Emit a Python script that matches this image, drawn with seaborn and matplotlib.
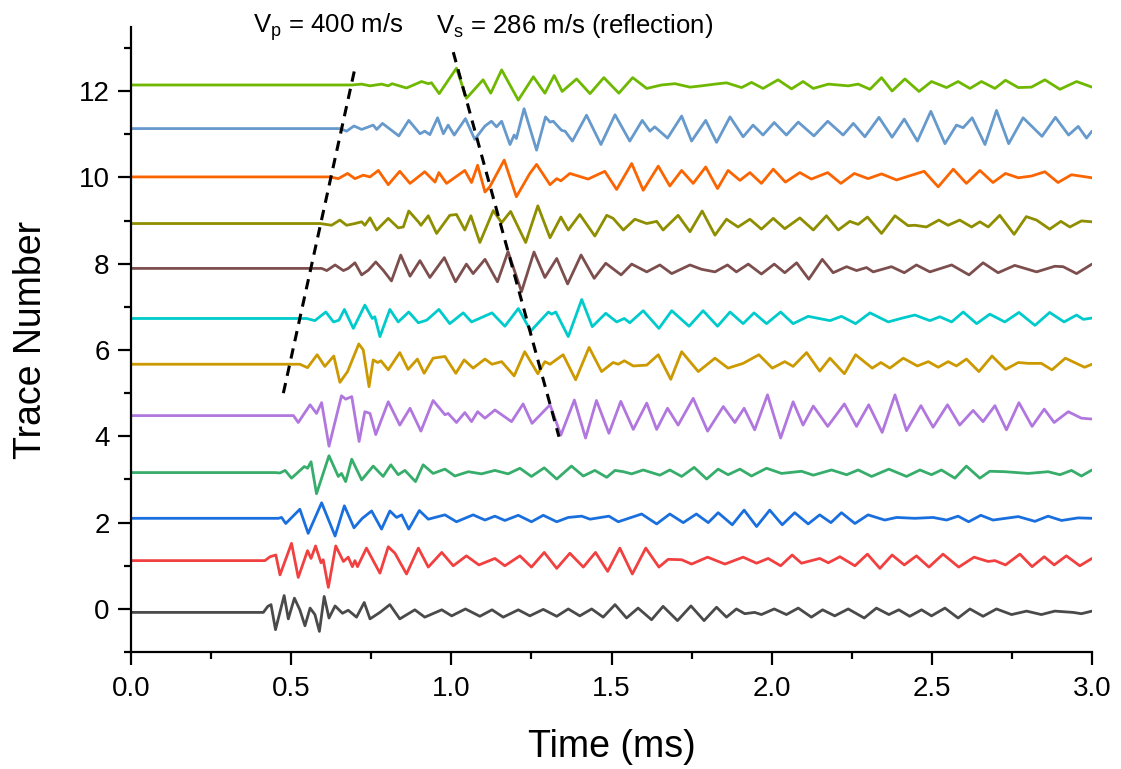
import matplotlib
matplotlib.use("Agg")
import matplotlib.pyplot as plt
import seaborn as sns
import pandas as pd
from matplotlib.ticker import MultipleLocator, FormatStrFormatter

# ---------------- data (time in ms, amplitude in trace units) ----------------
offsets = [-0.08, 1.12, 2.10, 3.16, 4.48, 5.67, 6.73, 7.89, 8.93, 10.01, 11.13, 12.14]
colors = ["#4A4A4A", "#F14040", "#1A6FDF", "#37AD6B", "#B177DE", "#CC9900",
          "#00CBCC", "#7D4E4E", "#8E8E00", "#FB6501", "#6699CC", "#6FB802"]

trace_0 = [(0, 0), (0.413, 0), (0.427, 0.14), (0.437, 0.18), (0.451, -0.40), (0.478, 0.39), (0.491, -0.15),
           (0.510, 0.33), (0.527, 0.06), (0.543, -0.31), (0.559, 0.10), (0.574, -0.05), (0.588, -0.44),
           (0.603, 0.37), (0.618, -0.13), (0.637, 0.15), (0.660, -0.02), (0.678, 0.05), (0.704, -0.11),
           (0.728, 0.23), (0.746, -0.15), (0.777, 0), (0.808, 0.18), (0.839, -0.15), (0.886, 0.06),
           (0.917, -0.11), (0.970, 0.06), (1.001, -0.08), (1.044, 0.08), (1.089, -0.09), (1.127, 0.06),
           (1.162, -0.11), (1.209, 0.06), (1.245, -0.08), (1.287, 0.07), (1.329, -0.09), (1.365, 0.08),
           (1.401, -0.08), (1.438, 0.08), (1.474, -0.11), (1.511, 0.18), (1.547, -0.13), (1.583, 0.10),
           (1.625, -0.17), (1.661, 0.14), (1.706, -0.19), (1.748, 0.15), (1.789, -0.19), (1.828, 0.12),
           (1.859, -0.11), (1.890, 0.08), (1.916, -0.03), (1.947, 0), (1.968, -0.05), (2.008, 0.08),
           (2.046, -0.05), (2.083, 0.10), (2.124, -0.11), (2.159, 0.06), (2.197, -0.08), (2.239, 0.08),
           (2.289, -0.13), (2.327, 0.10), (2.366, -0.05), (2.397, 0.06), (2.431, -0.09), (2.468, 0.06),
           (2.499, -0.08), (2.541, 0.10), (2.582, -0.13), (2.619, 0.08), (2.660, -0.09), (2.702, 0.08),
           (2.749, -0.05), (2.796, 0.03), (2.842, -0.05), (2.884, 0.03), (2.941, 0), (2.967, -0.03), (3.0, 0.03)]

trace_1 = [(0, 0), (0.418, 0), (0.434, 0.09), (0.452, 0.13), (0.465, -0.33), (0.501, 0.40), (0.522, -0.39),
           (0.551, 0.23), (0.562, 0.05), (0.576, 0.34), (0.593, -0.05), (0.600, 0.02), (0.616, -0.62),
           (0.639, 0.34), (0.663, -0.02), (0.678, 0.08), (0.691, -0.14), (0.699, 0), (0.707, -0.14),
           (0.735, 0.29), (0.777, -0.29), (0.803, 0.32), (0.824, 0.17), (0.860, -0.31), (0.897, 0.29),
           (0.928, -0.15), (0.970, 0.19), (1.006, -0.12), (1.047, 0.11), (1.086, -0.10), (1.136, 0.05),
           (1.167, -0.12), (1.214, 0.11), (1.250, -0.15), (1.290, 0.19), (1.329, -0.18), (1.370, 0.17),
           (1.412, -0.15), (1.450, 0.19), (1.488, -0.25), (1.526, 0.29), (1.565, -0.31), (1.607, 0.29),
           (1.648, -0.15), (1.677, 0.03), (1.719, 0.02), (1.750, -0.08), (1.800, 0.08), (1.854, -0.08),
           (1.911, 0.08), (1.953, -0.06), (1.989, 0.05), (2.028, -0.12), (2.064, 0.13), (2.093, -0.06),
           (2.150, 0.05), (2.177, -0.05), (2.213, 0.09), (2.260, -0.12), (2.299, 0.15), (2.338, -0.18),
           (2.376, 0.13), (2.414, -0.10), (2.452, 0.11), (2.491, -0.15), (2.535, 0.15), (2.584, -0.15),
           (2.632, 0.08), (2.676, -0.02), (2.697, 0), (2.730, -0.10), (2.775, 0.15), (2.813, -0.14),
           (2.851, 0.09), (2.882, -0.10), (2.920, 0.11), (2.962, -0.12), (3.0, 0.05)]

trace_2 = [(0, 0), (0.460, 0), (0.470, 0.02), (0.483, -0.12), (0.527, 0.21), (0.553, -0.35), (0.595, 0.36),
           (0.637, -0.41), (0.666, 0.29), (0.696, -0.22), (0.722, 0), (0.751, 0.17), (0.782, -0.25),
           (0.808, 0.17), (0.829, 0.02), (0.845, 0.08), (0.867, -0.25), (0.900, 0.18), (0.928, -0.02),
           (0.980, 0.08), (1.016, -0.08), (1.068, 0.08), (1.105, -0.04), (1.136, 0.05), (1.167, -0.05),
           (1.209, 0.07), (1.250, -0.08), (1.287, 0.07), (1.329, -0.08), (1.365, 0.02), (1.407, 0.05),
           (1.433, -0.02), (1.492, 0.05), (1.521, -0.08), (1.594, 0.10), (1.641, -0.13), (1.682, 0.10),
           (1.724, -0.10), (1.765, 0.10), (1.802, -0.10), (1.833, 0.13), (1.877, -0.15), (1.914, 0.19),
           (1.953, -0.19), (1.994, 0.19), (2.033, -0.15), (2.072, 0.13), (2.114, -0.13), (2.150, 0.08),
           (2.185, -0.10), (2.218, 0.13), (2.260, -0.12), (2.301, 0.08), (2.353, -0.04), (2.390, 0.02),
           (2.447, 0), (2.504, 0.02), (2.546, -0.04), (2.582, 0.05), (2.615, -0.08), (2.653, 0.07),
           (2.691, -0.04), (2.770, 0.04), (2.822, -0.07), (2.863, 0.05), (2.905, -0.05), (2.957, 0.01), (3.0, 0)]

trace_3 = [(0, 0), (0.449, 0), (0.465, -0.01), (0.481, 0.05), (0.501, -0.13), (0.541, 0.14), (0.551, 0.10),
           (0.562, 0.25), (0.579, -0.49), (0.618, 0.39), (0.647, -0.09), (0.657, -0.02), (0.670, -0.21),
           (0.689, 0.31), (0.720, -0.17), (0.756, 0.15), (0.787, -0.09), (0.811, 0.18), (0.834, -0.05),
           (0.855, 0.05), (0.888, -0.21), (0.912, 0.18), (0.943, -0.02), (0.980, 0.08), (1.011, -0.08),
           (1.053, 0.02), (1.094, -0.03), (1.136, 0.05), (1.177, -0.03), (1.214, 0.10), (1.250, -0.09),
           (1.290, 0.11), (1.329, -0.15), (1.375, 0.15), (1.412, -0.08), (1.448, 0.05), (1.485, -0.11),
           (1.511, 0.05), (1.537, 0.02), (1.563, -0.03), (1.599, 0.06), (1.651, -0.06), (1.682, 0.06),
           (1.719, -0.09), (1.758, 0.12), (1.797, -0.15), (1.833, 0.08), (1.864, -0.05), (1.901, 0.08),
           (1.937, -0.08), (1.984, 0.10), (2.031, -0.02), (2.093, 0.03), (2.130, -0.06), (2.187, 0.06),
           (2.234, -0.05), (2.270, 0.06), (2.312, -0.09), (2.366, 0.08), (2.421, -0.09), (2.463, 0.06),
           (2.499, -0.05), (2.530, 0.06), (2.572, -0.13), (2.608, 0.15), (2.650, -0.13), (2.681, 0.03),
           (2.728, 0.02), (2.801, -0.02), (2.863, 0.02), (2.900, -0.05), (2.936, 0.05), (2.967, -0.08), (3.0, 0.06)]

trace_4 = [(0, 0), (0.507, 0), (0.522, -0.16), (0.559, 0.25), (0.579, 0.05), (0.595, 0.30), (0.618, -0.71),
           (0.657, 0.46), (0.670, 0.38), (0.689, 0.44), (0.712, -0.60), (0.730, 0.09), (0.746, 0.05),
           (0.764, -0.44), (0.803, 0.32), (0.839, -0.22), (0.871, 0.17), (0.905, -0.36), (0.943, 0.35),
           (0.980, 0.02), (0.990, 0.05), (1.016, -0.16), (1.042, 0.07), (1.063, -0.14), (1.082, 0.09),
           (1.105, -0.06), (1.136, 0.13), (1.188, -0.14), (1.224, 0.27), (1.252, -0.18), (1.308, 0.25),
           (1.342, -0.45), (1.384, 0.36), (1.419, -0.52), (1.453, 0.35), (1.492, -0.41), (1.529, 0.33),
           (1.568, -0.32), (1.610, 0.29), (1.641, -0.32), (1.675, 0.17), (1.708, -0.22), (1.755, 0.40),
           (1.800, -0.36), (1.849, 0.21), (1.885, -0.16), (1.914, 0.17), (1.947, -0.33), (1.987, 0.48),
           (2.028, -0.52), (2.067, 0.32), (2.098, -0.22), (2.130, 0.22), (2.175, -0.25), (2.227, 0.27),
           (2.265, -0.25), (2.303, 0.25), (2.345, -0.39), (2.385, 0.48), (2.421, -0.35), (2.466, 0.23),
           (2.504, -0.27), (2.549, 0.25), (2.587, -0.22), (2.629, 0.12), (2.660, -0.14), (2.697, 0.23),
           (2.733, -0.33), (2.772, 0.30), (2.813, -0.25), (2.851, 0.15), (2.882, -0.16), (2.926, 0.09),
           (2.967, -0.06), (3.0, -0.08)]

trace_5 = [(0, 0), (0.501, 0), (0.527, 0), (0.551, -0.08), (0.581, 0.22), (0.605, -0.05), (0.633, 0.19),
           (0.652, -0.42), (0.676, -0.17), (0.711, 0.47), (0.725, 0.33), (0.743, -0.52), (0.756, 0.10),
           (0.770, 0.04), (0.780, 0.08), (0.803, -0.13), (0.839, 0.27), (0.865, -0.12), (0.894, 0.12),
           (0.915, -0.21), (0.943, 0.14), (0.980, 0.18), (1.014, -0.21), (1.040, 0.10), (1.068, -0.09),
           (1.105, 0.12), (1.127, 0), (1.157, 0.06), (1.196, -0.27), (1.229, 0.29), (1.270, -0.22),
           (1.292, 0.06), (1.308, 0), (1.349, 0.22), (1.388, -0.36), (1.430, 0.39), (1.469, -0.17),
           (1.505, 0.04), (1.521, 0), (1.540, 0.08), (1.568, -0.04), (1.610, -0.02), (1.646, 0.22),
           (1.685, -0.35), (1.719, 0.29), (1.771, -0.17), (1.823, 0.14), (1.864, -0.09), (1.911, 0.02),
           (1.960, 0.22), (2.002, -0.09), (2.041, 0.06), (2.067, -0.05), (2.109, 0.27), (2.150, -0.16),
           (2.182, 0.14), (2.227, -0.22), (2.262, 0.22), (2.314, -0.09), (2.341, 0.04), (2.369, -0.09),
           (2.411, 0.14), (2.455, -0.04), (2.489, 0.06), (2.520, -0.07), (2.551, 0.06), (2.577, -0.04),
           (2.608, 0.12), (2.647, -0.17), (2.688, 0.19), (2.730, -0.12), (2.770, 0.04), (2.801, 0.02),
           (2.842, 0.02), (2.875, -0.13), (2.917, 0.14), (2.977, -0.07), (3.0, 0)]

trace_6 = [(0, 0), (0.548, 0), (0.574, -0.05), (0.608, 0.15), (0.632, -0.08), (0.649, -0.04), (0.666, 0.21),
           (0.694, -0.23), (0.730, 0.31), (0.753, 0), (0.761, 0.04), (0.777, -0.42), (0.808, 0.21),
           (0.834, -0.08), (0.867, 0.15), (0.897, -0.10), (0.923, -0.04), (0.961, 0.21), (0.995, -0.12),
           (1.037, 0.13), (1.063, -0.08), (1.127, 0.13), (1.167, -0.18), (1.209, 0.23), (1.248, -0.29),
           (1.303, 0.15), (1.313, 0.10), (1.326, 0.15), (1.365, -0.42), (1.407, 0.44), (1.440, -0.19),
           (1.482, 0.12), (1.516, -0.08), (1.540, 0), (1.557, -0.10), (1.599, 0.18), (1.648, -0.23),
           (1.688, 0.18), (1.742, -0.18), (1.786, 0.18), (1.831, -0.18), (1.870, 0.15), (1.911, -0.12),
           (1.945, 0.13), (1.984, -0.12), (2.028, 0.15), (2.067, -0.12), (2.114, 0.05), (2.182, -0.05),
           (2.218, 0.05), (2.262, -0.12), (2.307, 0.13), (2.364, -0.08), (2.403, 0), (2.447, 0.08),
           (2.494, -0.05), (2.525, 0.04), (2.562, -0.08), (2.598, 0.15), (2.640, -0.12), (2.681, 0.10),
           (2.728, -0.08), (2.772, 0.14), (2.822, -0.16), (2.868, 0.14), (2.913, -0.08), (2.952, 0.08),
           (2.973, -0.02), (3.0, 0.01)]

trace_7 = [(0, 0), (0.595, 0), (0.611, -0.05), (0.637, 0.08), (0.663, -0.05), (0.678, 0), (0.699, 0.13),
           (0.720, -0.15), (0.741, -0.04), (0.764, 0.15), (0.787, -0.04), (0.813, -0.29), (0.842, 0.31),
           (0.871, -0.18), (0.902, 0.18), (0.933, -0.21), (0.978, 0.25), (1.013, -0.31), (1.047, 0.10),
           (1.068, -0.12), (1.105, 0.21), (1.144, -0.31), (1.177, 0.39), (1.219, -0.54), (1.258, 0.38),
           (1.292, -0.21), (1.329, 0.23), (1.363, -0.36), (1.405, 0.31), (1.446, -0.23), (1.482, 0.12),
           (1.530, -0.15), (1.563, 0.10), (1.610, -0.08), (1.651, 0.08), (1.688, -0.12), (1.745, 0.08),
           (1.781, -0.02), (1.823, -0.08), (1.862, 0.08), (1.890, -0.08), (1.927, 0.10), (1.968, -0.13),
           (2.008, 0.10), (2.041, -0.10), (2.078, 0.13), (2.116, -0.25), (2.158, 0.21), (2.192, -0.10),
           (2.234, 0.04), (2.265, -0.05), (2.296, 0.02), (2.317, -0.08), (2.374, 0.04), (2.414, -0.10),
           (2.452, 0.08), (2.494, -0.08), (2.562, 0.08), (2.616, -0.15), (2.660, 0.13), (2.707, -0.10),
           (2.759, 0.07), (2.827, -0.08), (2.884, 0.05), (2.910, 0.04), (2.952, -0.12), (3.0, 0.10)]

trace_8 = [(0, 0), (0.590, 0), (0.626, -0.04), (0.652, 0.08), (0.673, -0.04), (0.699, 0), (0.720, 0.04),
           (0.730, -0.04), (0.746, 0.13), (0.767, -0.15), (0.803, 0.12), (0.834, -0.10), (0.850, -0.08),
           (0.867, 0.29), (0.897, 0.04), (0.905, -0.04), (0.928, 0.18), (0.954, -0.23), (0.995, 0.19),
           (1.016, 0.21), (1.042, -0.15), (1.061, 0.18), (1.089, -0.44), (1.131, 0.30), (1.157, 0.02),
           (1.185, 0.28), (1.232, -0.44), (1.270, 0.41), (1.308, -0.33), (1.342, 0.15), (1.365, -0.15),
           (1.401, 0.21), (1.448, -0.29), (1.485, 0.19), (1.505, 0.12), (1.537, -0.15), (1.573, 0.10),
           (1.610, 0), (1.641, 0.05), (1.661, -0.15), (1.708, 0.19), (1.745, -0.19), (1.783, 0.29),
           (1.823, -0.27), (1.859, 0.10), (1.895, -0.08), (1.932, 0.10), (1.968, -0.13), (2.005, 0.12),
           (2.041, -0.12), (2.088, 0.13), (2.130, -0.15), (2.171, 0.18), (2.208, -0.15), (2.244, 0.05),
           (2.270, -0.02), (2.299, 0.15), (2.343, -0.23), (2.385, 0.18), (2.426, -0.05), (2.447, -0.04),
           (2.483, -0.08), (2.522, 0.08), (2.551, -0.04), (2.587, 0.08), (2.624, -0.08), (2.650, 0.04),
           (2.676, -0.08), (2.712, 0.19), (2.757, -0.25), (2.795, 0.16), (2.827, 0.08), (2.868, -0.13),
           (2.903, 0.05), (2.931, -0.08), (2.967, 0.06), (3.0, 0.04)]

trace_9 = [(0, 0), (0.621, 0), (0.647, -0.04), (0.676, 0.08), (0.699, -0.04), (0.725, 0.04), (0.746, 0),
           (0.772, 0.15), (0.803, -0.18), (0.839, 0.13), (0.871, -0.15), (0.917, 0.12), (0.949, -0.12),
           (0.961, 0.10), (0.985, -0.15), (1.042, 0.15), (1.063, -0.13), (1.082, 0.27), (1.105, -0.35),
           (1.120, -0.23), (1.165, 0.39), (1.203, -0.46), (1.245, 0.08), (1.266, 0.29), (1.308, -0.18),
           (1.329, -0.04), (1.342, -0.09), (1.370, 0.08), (1.427, -0.05), (1.479, 0.13), (1.516, -0.29),
           (1.563, 0.31), (1.599, -0.31), (1.646, 0.25), (1.682, -0.21), (1.719, 0.15), (1.755, -0.15),
           (1.794, 0.23), (1.831, -0.27), (1.864, 0.15), (1.901, -0.08), (1.932, 0.10), (1.968, -0.15),
           (2.005, 0.18), (2.043, -0.12), (2.088, 0.10), (2.124, -0.05), (2.175, 0.10), (2.216, -0.15),
           (2.258, 0.08), (2.301, -0.04), (2.343, 0.07), (2.390, -0.07), (2.437, 0.04), (2.476, 0.13),
           (2.520, -0.23), (2.567, 0.18), (2.608, -0.15), (2.650, 0.15), (2.691, -0.13), (2.730, 0.08),
           (2.770, -0.02), (2.811, 0.02), (2.853, 0.12), (2.894, -0.13), (2.936, 0.05), (3.0, -0.02)]

trace_10 = [(0, 0), (0.652, 0), (0.673, -0.06), (0.696, 0.06), (0.720, -0.02), (0.756, 0.08), (0.767, -0.02),
            (0.785, 0.12), (0.836, -0.17), (0.867, 0.19), (0.902, -0.12), (0.917, -0.06), (0.933, -0.14),
            (0.957, 0.25), (0.975, -0.12), (0.990, 0.08), (1.009, -0.15), (1.044, 0.23), (1.073, -0.25),
            (1.105, 0.06), (1.125, 0.17), (1.141, 0.04), (1.157, 0.17), (1.183, -0.37), (1.196, -0.15),
            (1.203, -0.23), (1.227, 0.46), (1.266, -0.50), (1.294, 0.27), (1.308, 0.15), (1.318, 0.17),
            (1.344, -0.04), (1.355, -0.06), (1.378, -0.29), (1.422, 0.31), (1.467, -0.37), (1.511, 0.32),
            (1.557, -0.29), (1.596, 0.19), (1.620, -0.06), (1.635, 0.04), (1.675, -0.22), (1.719, 0.29),
            (1.750, -0.29), (1.794, 0.19), (1.828, -0.32), (1.870, 0.27), (1.911, -0.19), (1.942, 0.08),
            (1.973, -0.15), (2.008, 0.14), (2.046, -0.15), (2.083, 0.15), (2.132, -0.17), (2.175, 0.17),
            (2.223, -0.15), (2.255, 0.12), (2.291, -0.19), (2.335, 0.26), (2.376, -0.20), (2.414, 0.22),
            (2.455, -0.29), (2.497, 0.40), (2.541, -0.35), (2.577, 0.08), (2.598, 0.02), (2.626, 0.25),
            (2.666, -0.37), (2.702, 0.42), (2.740, -0.35), (2.785, 0.25), (2.844, -0.18), (2.886, 0.26),
            (2.927, -0.15), (2.957, 0.05), (2.983, -0.22), (3.0, -0.06)]

trace_11 = [(0, 0), (0.689, 0), (0.720, 0.02), (0.746, -0.02), (0.782, 0.02), (0.803, -0.02), (0.815, 0.03),
            (0.860, -0.07), (0.907, 0.08), (0.928, 0.03), (0.938, 0.05), (0.962, -0.20), (1.016, 0.39),
            (1.047, -0.31), (1.099, 0.12), (1.123, -0.19), (1.157, 0.35), (1.209, -0.35), (1.256, 0.19),
            (1.292, -0.19), (1.321, 0.22), (1.346, -0.15), (1.391, 0.14), (1.433, -0.20), (1.476, 0.17),
            (1.523, -0.19), (1.566, 0.17), (1.610, -0.08), (1.656, 0), (1.698, 0.03), (1.745, -0.05),
            (1.781, -0.02), (1.823, 0.02), (1.859, 0.05), (1.906, -0.06), (1.937, 0.06), (1.973, -0.08),
            (2.020, 0.12), (2.062, -0.09), (2.098, 0.08), (2.130, -0.08), (2.177, 0.02), (2.239, -0.02),
            (2.270, 0.02), (2.307, -0.10), (2.343, 0.17), (2.376, -0.14), (2.416, 0.14), (2.460, -0.15),
            (2.499, 0.08), (2.546, -0.06), (2.582, 0.08), (2.619, -0.08), (2.655, 0.08), (2.697, -0.08),
            (2.730, 0.11), (2.770, -0.06), (2.811, -0.05), (2.853, 0.12), (2.900, -0.10), (2.952, 0.08),
            (3.0, -0.05)]

traces = [trace_0, trace_1, trace_2, trace_3, trace_4, trace_5,
          trace_6, trace_7, trace_8, trace_9, trace_10, trace_11]

# velocity guide lines (time ms, trace position)
vp_line_t = [0.4755, 0.697]
vp_line_y = [5.00, 12.46]
vs_line_t = [1.006, 1.336]
vs_line_y = [12.90, 3.99]

# ---------------- build long table ----------------
rows = []
for k, (tr, off) in enumerate(zip(traces, offsets)):
    for t, a in tr:
        rows.append({"time": t, "value": off + a, "trace": str(k)})
df = pd.DataFrame(rows)

# ---------------- styling ----------------
sns.set_style("ticks")
plt.rcParams["font.family"] = ["Liberation Sans", "DejaVu Sans"]
plt.rcParams["mathtext.fontset"] = "custom"
plt.rcParams["mathtext.rm"] = "Liberation Sans"
plt.rcParams["mathtext.it"] = "Liberation Sans:italic"
plt.rcParams["text.color"] = "black"
plt.rcParams["axes.labelcolor"] = "black"
plt.rcParams["xtick.color"] = "black"
plt.rcParams["ytick.color"] = "black"

fig = plt.figure(figsize=(11.21, 7.69), dpi=100)
ax = fig.add_axes([0.1169, 0.152, 0.8572, 0.8127])

sns.lineplot(data=df, x="time", y="value", hue="trace",
             hue_order=[str(k) for k in range(len(traces))],
             palette=colors, estimator=None, sort=False, legend=False,
             linewidth=2.0, ax=ax)
for ln in ax.get_lines():
    ln.set_solid_joinstyle("round")
    ln.set_solid_capstyle("round")

ax.plot(vp_line_t, vp_line_y, color="black", lw=2.2, dashes=(3.4, 2.4))
ax.plot(vs_line_t, vs_line_y, color="black", lw=2.2, dashes=(3.4, 2.4))

ax.set_xlim(0, 3.0)
ax.set_ylim(-1.0, 13.48)

for s in ["top", "right"]:
    ax.spines[s].set_visible(False)
for s in ["left", "bottom"]:
    ax.spines[s].set_linewidth(1.6)
    ax.spines[s].set_color("black")

ax.xaxis.set_major_locator(MultipleLocator(0.5))
ax.xaxis.set_minor_locator(MultipleLocator(0.25))
ax.xaxis.set_major_formatter(FormatStrFormatter("%.1f"))
ax.yaxis.set_major_locator(MultipleLocator(2))
ax.yaxis.set_minor_locator(MultipleLocator(1))

ax.tick_params(which="major", direction="out", length=9.5, width=1.6,
               labelsize=20, color="black", labelcolor="black")
ax.tick_params(axis="x", which="major", pad=8)
ax.tick_params(axis="y", which="major", pad=6)
ax.tick_params(which="minor", direction="out", length=5, width=1.6, color="black")

ax.set_xlabel("Time (ms)", fontsize=27, labelpad=19)
ax.set_ylabel("Trace Number", fontsize=27, labelpad=21)

ax.text(0.381, 13.34, r"V$_\mathregular{p}$ = 400 m/s", fontsize=18.5, ha="left", va="baseline")
ax.text(0.952, 13.34, r"V$_\mathregular{s}$ = 286 m/s (reflection)", fontsize=18.5, ha="left", va="baseline")

fig.savefig("out.png", dpi=100)
